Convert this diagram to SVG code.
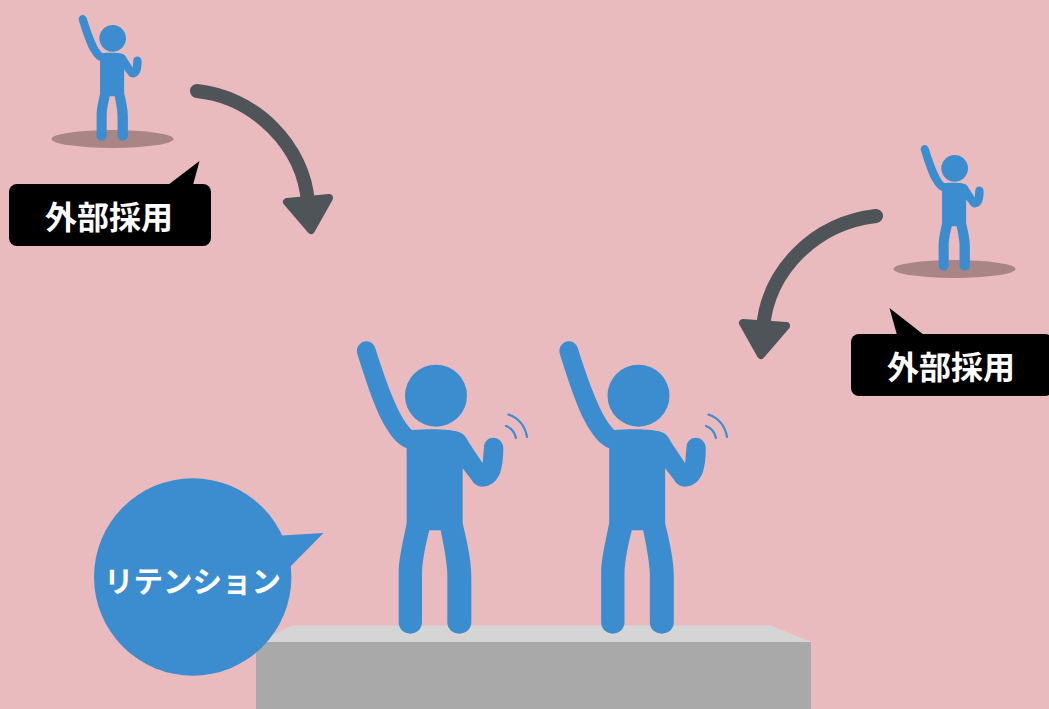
<svg xmlns="http://www.w3.org/2000/svg" xmlns:xlink="http://www.w3.org/1999/xlink" width="1049" height="709" viewBox="0 0 1049 709">
<style>
.fig{fill:#3b8dd0}
.wave{fill:none;stroke:#3b8dd0;stroke-width:2.200;stroke-linecap:round}
.shadow{fill:#a98586}
.arrow{fill:none;stroke:#4f5459;stroke-width:14;stroke-linecap:round}
.head{fill:#4f5459;stroke:#4f5459;stroke-width:8;stroke-linejoin:round}
.callout{fill:#000}
.label{fill:#fff;font-family:"Noto Sans CJK JP","Noto Sans",sans-serif;font-weight:700;text-anchor:middle}
</style>
<defs>
<g id="person">
<circle class="fig" cx="288" cy="197" r="93"/>
<path class="fig" d="M52 72C46 52 62 33 80 34C92 34 103 44 106 55C125 115 150 190 180 250C190 270 203 288 215 300C260 297 340 295 365 310C375 316 380 325 385 335L428 400L432 350C433 333 446 323 460 323C476 323 490 337 490 355C490 385 487 410 480 430C470 455 450 470 428 470C412 470 402 462 395 450L368 415L368 580C380 630 394 690 394 740L394 877C394 897 378 911 358 911C338 911 322 897 322 877L322 730C320 690 310 640 302 601L268 601C258 640 247 690 246 730L246 877C246 897 230 911 211 911C192 911 176 897 176 877L176 720C178 680 190 630 200 580L200 355C172 345 150 315 130 280C100 225 72 135 52 72Z"/>
</g>
</defs>
<rect id="background" width="1049" height="709" fill="#eabbbe"/>
<g id="platform">
<polygon points="256,642 293,625.500 771,625.500 811,642" fill="#d5d5d5"/>
<rect x="256" y="642" width="555" height="67" fill="#a9a9a9"/>
</g>
<g id="connectors">
<path class="arrow" d="M197 91C255 97 304 146 308 203"/>
<polygon class="head" points="287,202 329,198 311,230"/>
<path class="arrow" d="M876 216C815 223 768 270 763 328"/>
<polygon class="head" points="743,323 786,326 761,355"/>
</g>
<g id="person-top-left">
<ellipse class="shadow" cx="112.500" cy="139" rx="61" ry="9"/>
<use xlink:href="#person" href="#person" transform="translate(71.400 10.100) scale(.1433)"/>
</g>
<g id="person-top-right">
<ellipse class="shadow" cx="954.500" cy="269" rx="61" ry="9"/>
<use xlink:href="#person" href="#person" transform="translate(913.400 140.100) scale(.1433)"/>
</g>
<g id="person-center-left">
<use xlink:href="#person" href="#person" transform="translate(340 330) scale(.3333)"/>
<path class="wave" d="M508.500 414.500Q524 420 527 437M506 426Q514 429 516 438"/>
</g>
<g id="person-center-right">
<use xlink:href="#person" href="#person" transform="translate(542.500 330) scale(.3333)"/>
<path class="wave" d="M708.500 414.500Q724 420 727 437M706 426Q714 429 716 438"/>
</g>
<g id="callout-left">
<rect class="callout" x="9" y="184" width="202" height="62" rx="8"/>
<polygon class="callout" points="168,185 199.500,161 193,185"/>
<text class="label" x="109" y="229" style="font-size:32px">外部採用</text>
</g>
<g id="callout-right">
<rect class="callout" x="851" y="334" width="202" height="62" rx="8"/>
<polygon class="callout" points="897,335 889.500,308 924,335"/>
<text class="label" x="951" y="379" style="font-size:32px">外部採用</text>
</g>
<g id="retention">
<circle class="fig" cx="192.700" cy="577" r="98.700"/>
<polygon class="fig" points="282,535.500 323.500,533 290,567"/>
<text class="label" x="192.500" y="592" style="font-size:29.500px">リテンション</text>
</g>
</svg>
